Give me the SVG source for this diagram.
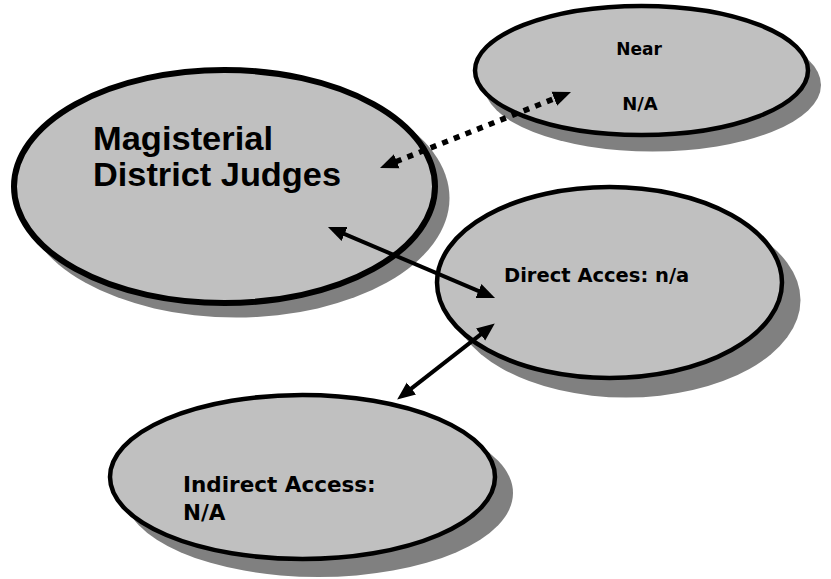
<svg xmlns="http://www.w3.org/2000/svg" width="831" height="579" viewBox="0 0 831 579">
<style>
.shadow{fill:#808080;stroke:none}
.node{fill:#c0c0c0;stroke:#000;stroke-width:4.5}
.big{stroke-width:6}
.t1{font-family:"Liberation Sans",Arial,sans-serif;font-weight:bold;font-size:33px;fill:#000}
.t2{font-family:"DejaVu Sans",Verdana,sans-serif;font-weight:bold;fill:#000}
.conn{fill:none;stroke:#000;stroke-width:4}
.dot{stroke-width:5.5;stroke-dasharray:6 6.5}
</style>
<defs>
<marker id="ah" markerUnits="userSpaceOnUse" markerWidth="20" markerHeight="16" viewBox="0 -8 20 16" refX="1" refY="0" orient="auto-start-reverse">
<path d="M0,-7.5 L18,0 L0,7.5 Z" fill="#000"/>
</marker>
</defs>
<g id="node-mdj">
<ellipse class="shadow" cx="236" cy="198" rx="213.5" ry="119.5"/>
<ellipse class="node big" cx="224.5" cy="186.5" rx="210.5" ry="116.5"/>
<text class="t1" x="93" y="150" textLength="180" lengthAdjust="spacingAndGlyphs">Magisterial</text>
<text class="t1" x="93" y="186" textLength="248" lengthAdjust="spacingAndGlyphs">District Judges</text>
</g>
<g id="node-direct">
<ellipse class="shadow" cx="626" cy="300" rx="174.5" ry="97.5"/>
<ellipse class="node" cx="609.5" cy="282.5" rx="172.5" ry="95.5"/>
<text class="t2" x="504" y="282" font-size="19.5">Direct Acces: n/a</text>
</g>
<g id="node-near">
<ellipse class="shadow" cx="652.5" cy="85" rx="168.5" ry="66.5"/>
<ellipse class="node" cx="641.5" cy="70.5" rx="166.5" ry="64.5"/>
<text class="t2" x="639" y="55" font-size="17" text-anchor="middle">Near</text>
<text class="t2" x="640" y="110" font-size="18" text-anchor="middle">N/A</text>
</g>
<g id="node-indirect">
<ellipse class="shadow" cx="318.5" cy="493" rx="194.5" ry="84"/>
<ellipse class="node" cx="302.5" cy="477" rx="192.5" ry="82"/>
<text class="t2" x="183" y="492" font-size="21.5">Indirect Access:</text>
<text class="t2" x="183" y="520" font-size="21.5">N/A</text>
</g>
<g id="connectors">
<line class="conn dot" x1="395.8" y1="161.7" x2="555.2" y2="98.3" marker-start="url(#ah)" marker-end="url(#ah)"/>
<line class="conn" x1="343.6" y1="233.6" x2="479.4" y2="291.4" marker-start="url(#ah)" marker-end="url(#ah)"/>
<line class="conn" x1="481.4" y1="333.9" x2="410.6" y2="389.1" marker-start="url(#ah)" marker-end="url(#ah)"/>
</g>
</svg>
